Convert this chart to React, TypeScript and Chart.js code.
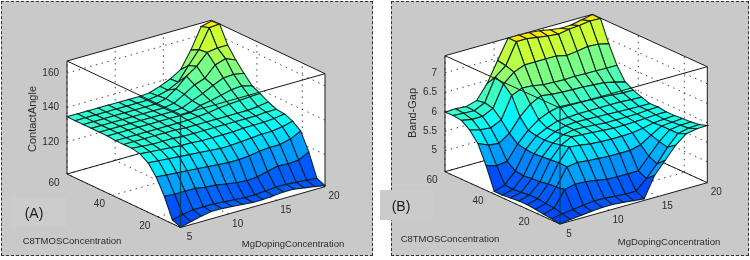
import React, { useEffect, useRef } from "react";
import { Chart, registerables } from "chart.js";

Chart.register(...registerables);

const dopingTicks = [5, 10, 15, 20];
const c8tmosTicks = [20, 40, 60];
const contactAngleTicks = [120, 140, 160];
const bandGapTicks = [5, 5.5, 6, 6.5, 7];
const bandGapTickText = ["5", "5.5", "6", "6.5", "7"];

// rows: C8TMOS low -> high, columns: Mg doping low -> high
const contactAngle = [
  [101.5, 103, 104.5, 105.5, 105.5, 105, 104.5, 104, 104, 104.5, 105, 105, 104, 103, 102],
  [103.5, 105, 106, 106, 106, 105.5, 105, 104.5, 104.5, 105, 105.5, 105.5, 105, 104.5, 104],
  [115, 114.5, 114.5, 114.5, 113.5, 113, 112, 111, 110.5, 111, 112.5, 114, 113.5, 114, 117],
  [124, 123.5, 123, 122.5, 122, 121.5, 121, 120.5, 120.5, 121, 122, 122.5, 122.5, 124, 127],
  [130, 129.5, 129, 128.5, 128, 127.5, 127, 126.5, 126.5, 127, 127.5, 128, 128, 129, 130.5],
  [133, 132.5, 132, 131.5, 131, 131, 130.5, 130.5, 130.5, 130.5, 131, 131, 131, 131.5, 132.5],
  [134, 133.5, 133, 133, 133, 132.5, 132.5, 132.5, 132.5, 132.5, 132.5, 132.5, 132.5, 133, 133],
  [134, 134, 134, 134, 134, 134, 133.5, 133.5, 133.5, 133.5, 133.5, 133.5, 133.5, 134, 135],
  [134, 134, 134, 134, 134, 134, 134, 134, 134.5, 135, 136, 136.5, 137, 137.5, 137.7],
  [134.5, 134.5, 134.5, 134.5, 134.5, 134.5, 134.5, 134.5, 134.5, 137, 138, 139.5, 141, 141.5, 140],
  [134.5, 134.5, 134.5, 134.5, 134.5, 134.5, 134.5, 134.5, 135, 137.5, 140, 143, 145.7, 146, 145],
  [134.5, 134.5, 134.5, 134.5, 134.5, 134.5, 134.5, 134.5, 135.5, 139, 142.8, 145, 151, 153, 150.5],
  [134.5, 134.5, 134.5, 134.5, 134.5, 134.5, 134.5, 134.5, 136, 140, 145.6, 149.7, 156, 157, 157],
  [134.5, 134.5, 134.5, 134.5, 134.5, 134.5, 134.5, 134.5, 135.5, 137, 140, 148, 155.5, 166.5, 167],
  [134.6, 134.6, 134.6, 134.6, 134.6, 134.5, 134.5, 134.5, 135, 137, 139.6, 143.3, 153, 165, 166.5],
];

const bandGap = [
  [4.46, 4.5, 4.53, 4.56, 4.58, 4.58, 4.56, 4.53, 4.5, 5.03, 5.34, 5.65, 5.87, 5.92, 5.93],
  [4.5, 4.55, 4.58, 4.62, 4.65, 4.65, 4.62, 4.6, 4.6, 4.85, 5.15, 5.5, 5.78, 5.84, 5.86],
  [4.52, 4.6, 5.0, 5.06, 5.05, 5.01, 4.96, 4.95, 4.95, 4.95, 5.25, 5.55, 5.78, 5.82, 5.83],
  [4.55, 4.62, 4.97, 5.41, 5.45, 5.42, 5.4, 5.38, 5.38, 5.38, 5.45, 5.62, 5.78, 5.8, 5.82],
  [4.57, 4.65, 4.95, 5.42, 5.75, 5.72, 5.68, 5.66, 5.65, 5.65, 5.66, 5.7, 5.76, 5.78, 5.8],
  [4.57, 4.65, 4.91, 5.4, 5.7, 5.84, 5.82, 5.8, 5.78, 5.76, 5.76, 5.77, 5.78, 5.8, 5.8],
  [4.55, 4.62, 4.9, 5.38, 5.66, 5.8, 5.85, 5.84, 5.82, 5.8, 5.8, 5.8, 5.8, 5.82, 5.83],
  [4.53, 4.6, 4.87, 5.36, 5.64, 5.78, 5.86, 5.88, 5.87, 5.86, 5.85, 5.84, 5.83, 5.82, 5.82],
  [4.53, 4.62, 4.9, 5.38, 5.65, 5.78, 5.88, 5.9, 5.92, 5.92, 5.92, 5.92, 5.92, 5.9, 5.89],
  [5.1, 5.02, 5.05, 5.42, 5.7, 5.9, 6.02, 6.08, 6.06, 6.05, 6.03, 6.02, 6.0, 5.98, 5.97],
  [5.57, 5.45, 5.42, 5.6, 5.95, 6.2, 6.34, 6.3, 6.28, 6.27, 6.26, 6.24, 6.22, 6.16, 6.09],
  [5.82, 5.75, 5.72, 5.85, 6.4, 6.52, 6.5, 6.45, 6.44, 6.43, 6.44, 6.43, 6.43, 6.42, 6.42],
  [5.97, 5.92, 5.92, 6.05, 6.6, 6.83, 6.94, 6.94, 6.94, 6.94, 6.88, 6.91, 6.96, 6.94, 6.88],
  [6.0, 5.98, 5.97, 6.1, 6.68, 6.9, 7.44, 7.44, 7.4, 7.36, 7.33, 7.38, 7.4, 7.44, 7.43],
  [5.99, 6.0, 5.98, 6.06, 6.42, 6.94, 7.44, 7.44, 7.43, 7.4, 7.35, 7.31, 7.32, 7.38, 7.44],
];

type Pt = { x: number; y: number };
type Cfg = {
  grid: number[][];
  zTicks: number[];
  zTickText: string[];
  zLim: [number, number];
  zLabel: string;
  tag: string;
  tagAt: Pt;
  front: Pt;
  right: Pt;
  left: Pt;
  height: number;
  xRange: [number, number];
  c8At: Pt;
  mgAt: Pt;
  zLabelAt: Pt;
};

const panelA: Cfg = {
  grid: contactAngle,
  zTicks: contactAngleTicks,
  zTickText: contactAngleTicks.map(String),
  zLim: [101.3, 167],
  zLabel: "ContactAngle",
  tag: "(A)",
  tagAt: { x: 34, y: 214 },
  front: { x: 180.5, y: 227.5 },
  right: { x: 325, y: 186.7 },
  left: { x: 67, y: 174 },
  height: 113,
  xRange: [0, 375],
  c8At: { x: 72, y: 241 },
  mgAt: { x: 293, y: 244 },
  zLabelAt: { x: 33, y: 119 },
};

const panelB: Cfg = {
  grid: bandGap,
  zTicks: bandGapTicks,
  zTickText: bandGapTickText,
  zLim: [4.46, 7.44],
  zLabel: "Band-Gap",
  tag: "(B)",
  tagAt: { x: 401, y: 207 },
  front: { x: 560, y: 224 },
  right: { x: 707.3, y: 182.7 },
  left: { x: 445, y: 171.7 },
  height: 116,
  xRange: [375, 750],
  c8At: { x: 450, y: 239 },
  mgAt: { x: 669, y: 242 },
  zLabelAt: { x: 413, y: 113 },
};

function jet(t: number) {
  const c = (v: number) => Math.round(255 * Math.max(0, Math.min(1, v)));
  const r = 1.5 - Math.abs(4 * t - 3);
  const g = 1.5 - Math.abs(4 * t - 2);
  const b = 1.5 - Math.abs(4 * t - 1);
  return `rgb(${c(r)},${c(g)},${c(b)})`;
}

function projector(cfg: Cfg) {
  const ux = cfg.right.x - cfg.front.x, uy = cfg.right.y - cfg.front.y;
  const vx = cfg.left.x - cfg.front.x, vy = cfg.left.y - cfg.front.y;
  return (u: number, v: number, w: number): Pt => ({
    x: cfg.front.x + ux * u + vx * v,
    y: cfg.front.y + uy * u + vy * v - cfg.height * w,
  });
}

function buildDatasets(cfg: Cfg) {
  const P = projector(cfg);
  const [z0, z1] = cfg.zLim;
  const W = (z: number) => (z - z0) / (z1 - z0);
  const U = (x: number) => (x - 5) / 15;
  const V = (y: number) => (y - 10) / 50;
  const out: any[] = [];
  const wall = (pts: Pt[]) =>
    out.push({ data: [...pts, pts[0]], showLine: true, pointRadius: 0, borderWidth: 0, backgroundColor: "#ffffff", fill: "shape", clip: false });
  const line = (pts: Pt[], color: string, width = 1, dash: number[] = []) =>
    out.push({ data: pts, showLine: true, pointRadius: 0, borderColor: color, borderWidth: width, borderDash: dash, fill: false, clip: false });

  wall([P(0, 1, 0), P(1, 1, 0), P(1, 1, 1), P(0, 1, 1)]);
  wall([P(1, 0, 0), P(1, 1, 0), P(1, 1, 1), P(1, 0, 1)]);
  wall([P(0, 0, 0), P(1, 0, 0), P(1, 1, 0), P(0, 1, 0)]);

  const dot = "rgba(50,50,50,0.9)";
  const dd = [1.5, 4.5];
  for (const x of dopingTicks) {
    line([P(U(x), 1, 0), P(U(x), 1, 1)], dot, 1, dd);
    line([P(U(x), 0, 0), P(U(x), 1, 0)], dot, 1, dd);
  }
  for (const y of c8tmosTicks) {
    line([P(1, V(y), 0), P(1, V(y), 1)], dot, 1, dd);
    line([P(0, V(y), 0), P(1, V(y), 0)], dot, 1, dd);
  }
  for (const z of cfg.zTicks) {
    line([P(0, 1, W(z)), P(1, 1, W(z))], dot, 1, dd);
    line([P(1, 0, W(z)), P(1, 1, W(z))], dot, 1, dd);
  }

  const dark = "#1a1a1a";
  line([P(0, 1, 1), P(1, 1, 1), P(1, 0, 1)], dark);
  line([P(0, 1, 0), P(1, 1, 0), P(1, 0, 0)], dark);
  line([P(0, 1, 0), P(0, 1, 1)], dark);
  line([P(1, 0, 0), P(1, 0, 1)], dark);
  line([P(0, 1, 0), P(0, 0, 0), P(1, 0, 0)], dark);

  const n = cfg.grid.length - 1;
  const mesh = "rgba(8,30,34,0.95)";
  for (let i = n - 1; i >= 0; i--) {
    for (let j = n - 1; j >= 0; j--) {
      const a = cfg.grid[i][j], b = cfg.grid[i][j + 1], c = cfg.grid[i + 1][j + 1], d = cfg.grid[i + 1][j];
      const t = 0.19 + 0.46 * W(a);
      const pts = [P(j / n, i / n, W(a)), P((j + 1) / n, i / n, W(b)), P((j + 1) / n, (i + 1) / n, W(c)), P(j / n, (i + 1) / n, W(d))];
      out.push({ data: [...pts, pts[0]], showLine: true, pointRadius: 0, borderColor: mesh, borderWidth: 1.1, backgroundColor: jet(t), fill: "shape", clip: false });
    }
  }

  line([P(0, 1, 1), P(0, 0, 1), P(1, 0, 1)], "#15191a");
  line([P(0, 0, 0), P(0, 0, 1)], "rgba(0,60,72,0.95)", 1.3);
  return out.reverse();
}

function textPlugin(cfg: Cfg) {
  const P = projector(cfg);
  const [z0, z1] = cfg.zLim;
  return {
    id: "labels",
    afterDraw(chart: any) {
      const { ctx, scales } = chart;
      const sx = (v: number) => scales.x.getPixelForValue(v);
      const sy = (v: number) => scales.y.getPixelForValue(v);
      const put = (s: string, x: number, y: number, font: string, align: CanvasTextAlign = "center", rot = 0, color = "#2c2c2c") => {
        ctx.save();
        ctx.font = font;
        ctx.fillStyle = color;
        ctx.textAlign = align;
        ctx.textBaseline = "middle";
        ctx.translate(sx(x), sy(y));
        ctx.rotate(rot);
        ctx.fillText(s, 0, 0);
        ctx.restore();
      };
      const tick = "10px 'Liberation Sans'";
      dopingTicks.forEach((x) => {
        const p = P((x - 5) / 15, 0, 0);
        put(String(x), p.x + 9, p.y + 10, tick);
      });
      c8tmosTicks.forEach((y) => {
        const p = P(0, (y - 10) / 50, 0);
        put(String(y), p.x - 13, p.y + 9, tick);
      });
      cfg.zTicks.forEach((z, k) => {
        const p = P(0, 1, (z - z0) / (z1 - z0));
        put(cfg.zTickText[k], p.x - 8, p.y, tick, "right");
      });
      const name = "9.5px 'Liberation Sans'";
      put("C8TMOSConcentration", cfg.c8At.x, cfg.c8At.y, name);
      put("MgDopingConcentration", cfg.mgAt.x, cfg.mgAt.y, name);
      put(cfg.zLabel, cfg.zLabelAt.x, cfg.zLabelAt.y, "11px 'Liberation Sans'", "center", -Math.PI / 2);
      put(cfg.tag, cfg.tagAt.x, cfg.tagAt.y, "14px 'Liberation Sans'", "center", 0, "#1a1a1a");
    },
  };
}

function Surface({ cfg }: { cfg: Cfg }) {
  const ref = useRef<HTMLCanvasElement>(null);
  useEffect(() => {
    const chart = new Chart(ref.current as HTMLCanvasElement, {
      type: "scatter",
      data: { datasets: buildDatasets(cfg) },
      options: {
        animation: false,
        responsive: false,
        devicePixelRatio: 1,
        layout: { padding: 0 },
        plugins: { legend: { display: false }, tooltip: { enabled: false } },
        elements: { line: { tension: 0 } },
        scales: {
          x: { type: "linear", display: false, min: cfg.xRange[0], max: cfg.xRange[1] },
          y: { type: "linear", display: false, min: 0, max: 260, reverse: true },
        },
      },
      plugins: [textPlugin(cfg)],
    } as any);
    return () => chart.destroy();
  }, [cfg]);
  return (
    <canvas
      ref={ref}
      width={375}
      height={260}
      style={{ position: "absolute", left: cfg.xRange[0], top: 0, width: 375, height: 260, filter: "blur(0.6px)" }}
    />
  );
}

const panelStyle = (left: number, width: number): React.CSSProperties => ({
  position: "absolute",
  left,
  top: 1,
  width,
  height: 255,
  background: "#c9c9c9",
  border: "1px dashed #333",
  boxSizing: "border-box",
});

const patchStyle = (left: number, top: number, bg: string): React.CSSProperties => ({
  position: "absolute",
  left,
  top,
  width: 54,
  height: 30,
  background: bg,
});

export default function App() {
  return (
    <div style={{ position: "fixed", left: 0, top: 0, width: 750, height: 260, background: "#fff", overflow: "hidden" }}>
      <div style={panelStyle(1, 372)} />
      <div style={panelStyle(391, 358)} />
      <div style={patchStyle(12, 197, "#cccccc")} />
      <div style={patchStyle(380, 190, "#cbcbcb")} />
      <Surface cfg={panelA} />
      <Surface cfg={panelB} />
    </div>
  );
}
